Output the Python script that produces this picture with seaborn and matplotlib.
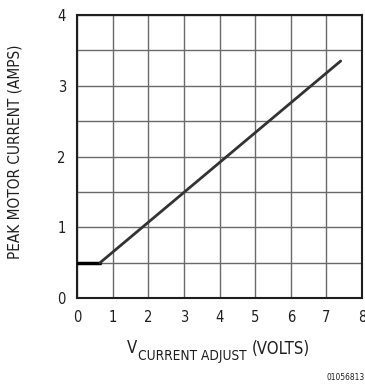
import numpy as np
import pandas as pd
import matplotlib as mpl
import matplotlib.pyplot as plt
import seaborn as sns

# data
v_flat = [0.0, 0.65]
i_flat = [0.5, 0.5]
v_ramp = [0.65, 7.4]
i_ramp = [0.5, 3.35]

x_ticks = [0, 1, 2, 3, 4, 5, 6, 7, 8]
y_ticks = [0, 1, 2, 3, 4]

sns.set_style("white")
plt.rcParams['font.family'] = ['DejaVu Sans']
plt.rcParams['font.stretch'] = 'condensed'

ink = "#1e1e1e"
W, H = 365, 385

fig = plt.figure(figsize=(3.65, 3.85), dpi=100)
ax = fig.add_axes([0.211, 0.226, 0.781, 0.735])

flat = pd.DataFrame({"v": v_flat, "i": i_flat})
ramp = pd.DataFrame({"v": v_ramp, "i": i_ramp})
sns.lineplot(data=flat, x="v", y="i", color="black", linewidth=2.5, ax=ax, zorder=5)
sns.lineplot(data=ramp, x="v", y="i", color="#333333", linewidth=2.0, ax=ax, zorder=5,
             solid_capstyle="round")

ax.set_xlim(0, 8)
ax.set_ylim(0, 4)
ax.set_xticks(x_ticks)
ax.set_yticks(y_ticks)
ax.set_xticklabels([str(t) for t in x_ticks], fontsize=10.5)
ax.set_yticklabels([str(t) for t in y_ticks], fontsize=10.5)
ax.set_yticks(np.arange(0, 4.01, 0.5), minor=True)
ax.grid(which="both", color="#6a6a6a", linewidth=1.0)
ax.tick_params(which="both", length=0, colors=ink)
ax.tick_params(axis="x", pad=9)
ax.tick_params(axis="y", pad=8)
for s in ax.spines.values():
    s.set_color(ink)
    s.set_linewidth(1.5)

ax.set_xlabel("")
ax.set_ylabel("PEAK MOTOR CURRENT (AMPS)", fontsize=11, color=ink)
ax.yaxis.set_label_coords(-0.19, 0.516)

# x label: V with a subscript, then (VOLTS)
fig.canvas.draw()
r = fig.canvas.get_renderer()
t1 = fig.text(127 / W, 1 - 353 / H, "V", fontsize=12, color=ink, va="baseline")
x1 = t1.get_window_extent(r).x1
t2 = fig.text((x1 + 1) / W, 1 - 360 / H, "CURRENT ADJUST", fontsize=9.8, color=ink, va="baseline")
x2 = t2.get_window_extent(r).x1
fig.text((x2 + 5) / W, 1 - 354 / H, "(VOLTS)", fontsize=12, color=ink, va="baseline")

fig.text(0.998, 0.012, "01056813", fontsize=6, color=ink, ha="right")

fig.savefig("out.png", dpi=100)
